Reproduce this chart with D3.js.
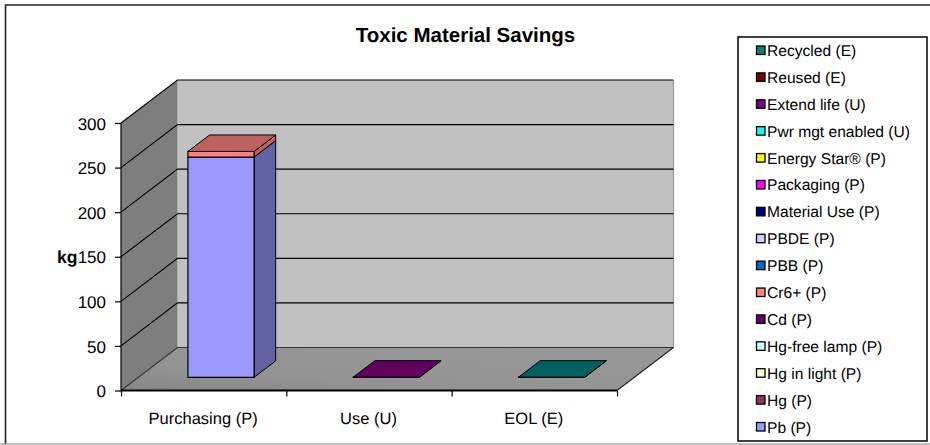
<!DOCTYPE html>
<html><head><meta charset="utf-8">
<script src="https://cdn.jsdelivr.net/npm/d3@7/dist/d3.min.js"></script>
<style>html,body{margin:0;padding:0;background:#fff}svg{display:block}text{font-family:"Liberation Sans",Arial,sans-serif;fill:#000;text-rendering:geometricPrecision}</style>
</head><body><svg id="c" width="930" height="445"></svg>
<script>
const title = "Toxic Material Savings";
const yLabel = "kg";
const categories = ["Purchasing (P)", "Use (U)", "EOL (E)"];
const yTicks = [0, 50, 100, 150, 200, 250, 300];
// stacking order: bottom to top; legend shows the reverse
const seriesNames = ["Pb (P)","Hg (P)","Hg in light (P)","Hg-free lamp (P)","Cd (P)","Cr6+ (P)","PBB (P)","PBDE (P)","Material Use (P)","Packaging (P)","Energy Star® (P)","Pwr mgt enabled (U)","Extend life (U)","Reused (E)","Recycled (E)"];
const seriesColors = ["#9999ff","#993366","#ffffcc","#ccffff","#660066","#ff8080","#0066cc","#ccccff","#000080","#ff00ff","#ffff00","#00ffff","#800080","#800000","#008080"];
const pb = [247,0,0], hg = [0,0,0], hgLight = [0,0,0], hgFree = [0,0,0], cd = [0,0,0], cr6 = [6.3,0,0];
const pbb = [0,0,0], pbde = [0,0,0], materialUse = [0,0,0], packaging = [0,0,0], energyStar = [0,0,0];
const pwrMgt = [0,0,0], extendLife = [0,0.2,0], reused = [0,0,0], recycled = [0,0,0.2];
const seriesValues = [pb,hg,hgLight,hgFree,cd,cr6,pbb,pbde,materialUse,packaging,energyStar,pwrMgt,extendLife,reused,recycled];

const svg = d3.select("#c");
const x = d3.scaleBand().domain(categories).range([121,617]).paddingInner(0.6).paddingOuter(0.3);
const xEdge = d3.scaleLinear().domain([0,categories.length]).range([121,617]);
const y = d3.scaleLinear().domain([0,300]).range([390.5,123]);
const depthX = d3.scaleLinear().domain([0,1]).range([0,56.5]);
const depthY = d3.scaleLinear().domain([0,1]).range([0,-43]);
const P = (px,val,t)=>[px+depthX(t), y(val)+depthY(t)];
const line = pts => "M"+pts.map(p=>p.join(",")).join("L")+"Z";
const open = pts => "M"+pts.map(p=>p.join(",")).join("L");

// frame
svg.append("path").attr("d","M930,5H5.5V444").attr("fill","none").attr("stroke","#222").attr("stroke-width",1.6);
svg.append("path").attr("d","M0,444H930").attr("stroke","#808080").attr("stroke-width",1.2);

const defs = svg.append("defs");
const fg = defs.append("linearGradient").attr("id","floor").attr("x1",0).attr("x2",1).attr("y1",1).attr("y2",0);
fg.append("stop").attr("offset",0).attr("stop-color","#868686");
fg.append("stop").attr("offset",0.3).attr("stop-color","#939393");
fg.append("stop").attr("offset",1).attr("stop-color","#989898");

const [x0,x1] = xEdge.range();
// walls
svg.append("path").attr("d",line([P(x0,0,1),P(x1,0,1),P(x1,300,1),P(x0,300,1)])).attr("fill","#c0c0c0");
svg.append("path").attr("d",line([P(x0,0,0),P(x0,0,1),P(x0,300,1),P(x0,300,0)])).attr("fill","#7e7e7e");
svg.append("path").attr("d",line([P(x0,0,0),P(x1,0,0),P(x1,0,1),P(x0,0,1)])).attr("fill","url(#floor)");
svg.append("path").attr("d",open([P(x1,0,1),P(x1,300,1)])).attr("stroke","#999").attr("fill","none").attr("stroke-width",1.2);
// gridlines
yTicks.forEach(v=>{
  const col = v===0 ? "#333" : "#000";
  svg.append("path").attr("d",open([P(x0,v,0),P(x0,v,1),P(x1,v,1)])).attr("fill","none").attr("stroke",col).attr("stroke-width",1.1);
});
svg.append("path").attr("d",open([P(x1,0,0),P(x1,0,1)])).attr("stroke","#222").attr("fill","none").attr("stroke-width",1.1);

// axes
const yAxis = svg.append("g").attr("transform",`translate(${x0},0)`).call(d3.axisLeft(y).tickValues(yTicks).tickSize(6).tickPadding(9).tickFormat(d3.format("d")));
yAxis.selectAll("text").style("font-size","17px").attr("dy","0.36em");
yAxis.selectAll("line").attr("stroke","#000").attr("stroke-width",1.2);
yAxis.select(".domain").attr("stroke","#000").attr("stroke-width",1.2).attr("d",`M0,${y(0)}V${y(300)}`);

const xAxis = svg.append("g").attr("transform",`translate(0,${y(0)})`)
  .call(d3.axisBottom(xEdge).tickValues(d3.range(0,categories.length+1)).tickSize(6).tickFormat(""));
xAxis.select(".domain").attr("stroke","#000").attr("stroke-width",2).attr("d",`M${x0},0H${x1}`);
xAxis.selectAll("line").attr("stroke","#000").attr("stroke-width",1.2);
svg.append("g").selectAll("text").data(categories).join("text")
  .attr("x",d=>x(d)+x.bandwidth()/2-0.5).attr("y",423.5).attr("text-anchor","middle").style("font-size","16.5px").text(d=>d);

// bars
const rows = categories.map((c,i)=>{const r={cat:c};seriesNames.forEach((s,k)=>r[s]=seriesValues[k][i]);return r;});
const stacked = d3.stack().keys(seriesNames)(rows);
const tFront = 0.307, tBack = 0.69;
categories.forEach((c,i)=>{
  const L = x(c), R = L + x.bandwidth();
  const segs = stacked.map((s,k)=>({lo:s[i][0],hi:s[i][1],col:seriesColors[k]})).filter(s=>s.hi>s.lo);
  segs.forEach((s,j)=>{
    const c0 = d3.color(s.col);
    const shade = f => d3.rgb(c0.r*f,c0.g*f,c0.b*f).formatHex();
    svg.append("path").attr("d",line([P(R,s.lo,tFront),P(R,s.lo,tBack),P(R,s.hi,tBack),P(R,s.hi,tFront)]))
      .attr("fill",shade(s.col==="#9999ff"?0.64:0.75)).attr("stroke","#000").attr("stroke-width",1);
    svg.append("path").attr("d",line([P(L,s.lo,tFront),P(R,s.lo,tFront),P(R,s.hi,tFront),P(L,s.hi,tFront)]))
      .attr("fill",s.col).attr("stroke","#000").attr("stroke-width",1.2);
    if(j===segs.length-1)
      svg.append("path").attr("d",line([P(L,s.hi,tFront),P(R,s.hi,tFront),P(R,s.hi,tBack),P(L,s.hi,tBack)]))
        .attr("fill",shade(0.75)).attr("stroke","#000").attr("stroke-width",1);
  });
});

// title + y label
svg.append("text").attr("x",465.5).attr("y",42).attr("text-anchor","middle").style("font-size","20.5px").style("font-weight","bold").text(title);
svg.append("text").attr("x",57).attr("y",263).style("font-size","17.5px").style("font-weight","bold").text(yLabel);

// legend
svg.append("rect").attr("x",738).attr("y",37).attr("width",189).attr("height",404).attr("fill","#fff").attr("stroke","#000").attr("stroke-width",1.5);
const legendY = d3.scalePoint().domain(d3.range(seriesNames.length)).range([50.5,427]);
const leg = svg.append("g").selectAll("g").data(seriesNames.map((n,i)=>({n,col:seriesColors[i]})).reverse()).join("g")
  .attr("transform",(d,i)=>`translate(0,${legendY(i)})`);
leg.append("rect").attr("x",756.5).attr("y",-4.5).attr("width",8.5).attr("height",8.5).attr("fill",d=>d.col).attr("stroke","#000").attr("stroke-width",1.3);
leg.append("text").attr("x",767).attr("y",5.5).style("font-size","15.6px").text(d=>d.n);
</script></body></html>
